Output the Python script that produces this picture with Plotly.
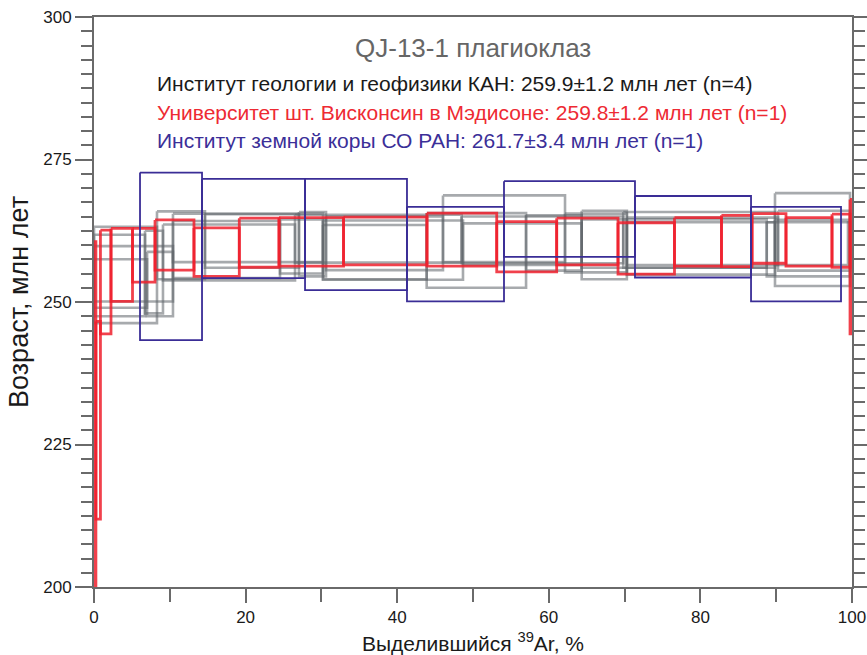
import plotly.graph_objects as go

# ---------------- data ----------------
# Gray: four analyses (Institute of Geology & Geophysics), cumulative 39Ar % boundaries, upper/lower age (Ma)
gray_bounds = [
    [0, 8.31, 14.64, 27.04, 30.61, 46.04, 62.14, 70.3, 90.24, 99.74],
    [0, 10.42, 24.54, 30.21, 43.89, 57.0, 64.34, 88.75, 99.74],
    [0, 6.73, 9.1, 26.52, 48.5, 69.82, 89.84, 99.74],
    [0, 7.0, 10.42, 30.21, 48.68, 64.34, 70.3, 89.84, 99.47],
]
gray_top = [
    [263.2, 265.9, 265.4, 265.8, 265.0, 268.7, 265.5, 264.8, 266.0],
    [259.8, 264.2, 264.5, 263.5, 265.6, 265.2, 264.5, 264.0],
    [261.8, 262.5, 263.6, 265.3, 265.0, 265.8, 269.1],
    [257.5, 258.8, 265.5, 264.3, 263.8, 266.0, 264.0, 264.4],
]
gray_bot = [
    [246.3, 254.0, 256.0, 254.5, 255.6, 257.0, 255.2, 256.5, 255.5],
    [250.1, 254.2, 255.0, 254.0, 252.5, 255.5, 256.0, 254.5],
    [247.5, 248.0, 253.8, 256.9, 256.8, 256.0, 252.8],
    [249.0, 247.5, 257.0, 253.9, 256.5, 254.0, 254.8, 256.5],
]

# Red: University of Wisconsin-Madison
red_bounds = [0, 0.25, 0.85, 2.24, 5.08, 8.05, 13.19, 19.17, 24.41, 32.92, 43.93,
              53.13, 61.04, 69.13, 76.58, 82.78, 86.81, 91.29, 97.36, 99.74, 100]
red_top = [260.6, 246.6, 262.6, 262.9, 262.9, 264.4, 263.0, 264.7, 264.8, 264.9,
           265.6, 264.1, 264.7, 263.9, 264.8, 265.2, 265.5, 264.8, 265.4, 268.0]
red_bot = [195.0, 211.9, 244.4, 250.1, 253.5, 255.6, 254.5, 256.1, 256.3, 256.5,
           256.3, 255.3, 256.5, 254.9, 256.3, 256.2, 256.8, 256.3, 256.1, 244.4]

# Blue: Institute of the Earth's Crust SB RAS
blue_bounds = [6.07, 14.25, 27.84, 41.29, 54.09, 71.37, 86.68, 98.55]
blue_top = [272.7, 271.6, 271.6, 266.7, 271.2, 268.6, 266.7]
blue_bot = [243.3, 254.2, 252.1, 250.1, 257.9, 254.3, 250.1]

title_text = "QJ-13-1 плагиоклаз"
legend_lines = [
    ("Институт геологии и геофизики КАН: 259.9±1.2 млн лет (n=4)", "#1a1a1a"),
    ("Университет шт. Висконсин в Мэдисоне: 259.8±1.2 млн лет (n=1)", "#ee2a33"),
    ("Институт земной коры СО РАН: 261.7±3.4 млн лет (n=1)", "#3b2f98"),
]
x_title = "Выделившийся <sup>39</sup>Ar, %"
y_title = "Возраст, млн лет"


def boxes(bounds, tops, bots):
    xs, ys = [], []
    for i in range(len(tops)):
        x0, x1 = bounds[i], bounds[i + 1]
        xs += [x0, x1, x1, x0, x0, None]
        ys += [tops[i], tops[i], bots[i], bots[i], tops[i], None]
    return xs, ys


fig = go.Figure()
for b, t, bt in zip(gray_bounds, gray_top, gray_bot):
    xs, ys = boxes(b, t, bt)
    fig.add_trace(go.Scatter(x=xs, y=ys, mode="lines",
                             line=dict(color="rgba(95,100,105,0.55)", width=2.6),
                             hoverinfo="skip", showlegend=False))
xs, ys = boxes(red_bounds, red_top, red_bot)
fig.add_trace(go.Scatter(x=xs, y=ys, mode="lines",
                         line=dict(color="rgba(238,32,45,0.85)", width=2.8),
                         hoverinfo="skip", showlegend=False))
xs, ys = boxes(blue_bounds, blue_top, blue_bot)
fig.add_trace(go.Scatter(x=xs, y=ys, mode="lines",
                         line=dict(color="#3a2d96", width=1.8),
                         hoverinfo="skip", showlegend=False))

font_family = "Liberation Sans, Arial, sans-serif"
axis_col = "#6a6a6a"

fig.add_annotation(text=title_text, xref="paper", yref="paper", x=0.5, y=0.9456,
                   xanchor="center", yanchor="middle", showarrow=False,
                   font=dict(size=26, color="#666666", family=font_family))
ys_leg = [0.8825, 0.8333, 0.7825]
for (txt, col), yy in zip(legend_lines, ys_leg):
    fig.add_annotation(text=txt, xref="paper", yref="paper", x=0.0805, y=yy,
                       xanchor="left", yanchor="middle", showarrow=False,
                       font=dict(size=21, color=col, family=font_family))

fig.update_xaxes(range=[0, 100], dtick=20, tick0=0, ticks="outside", ticklen=14,
                 tickwidth=2, tickcolor=axis_col, showline=True, linecolor=axis_col,
                 linewidth=2, mirror=True, showgrid=False, zeroline=False,
                 automargin=False,
                 minor=dict(dtick=10, ticks="outside", ticklen=13, tickwidth=2,
                            tickcolor=axis_col, showgrid=False),
                 tickfont=dict(size=17, color="#1a1a1a", family=font_family),
                 title=dict(text=x_title, font=dict(size=21, color="#1a1a1a", family=font_family),
                            standoff=11))
fig.update_yaxes(range=[200, 300], dtick=25, tick0=200, ticks="outside", ticklen=17,
                 tickwidth=2, tickcolor=axis_col, showline=True, linecolor=axis_col,
                 linewidth=2, mirror="allticks", showgrid=False, zeroline=False,
                 automargin=False,
                 minor=dict(dtick=2.5, ticks="outside", ticklen=11, tickwidth=2,
                            tickcolor=axis_col, showgrid=False),
                 tickfont=dict(size=17, color="#1a1a1a", family=font_family),
                 title=dict(text=y_title, font=dict(size=27, color="#1a1a1a", family=font_family),
                            standoff=7))

fig.update_layout(width=867, height=655, margin=dict(l=94, r=15, t=17, b=68),
                  paper_bgcolor="white", plot_bgcolor="white",
                  font=dict(family=font_family))

fig.write_html("out.html")
